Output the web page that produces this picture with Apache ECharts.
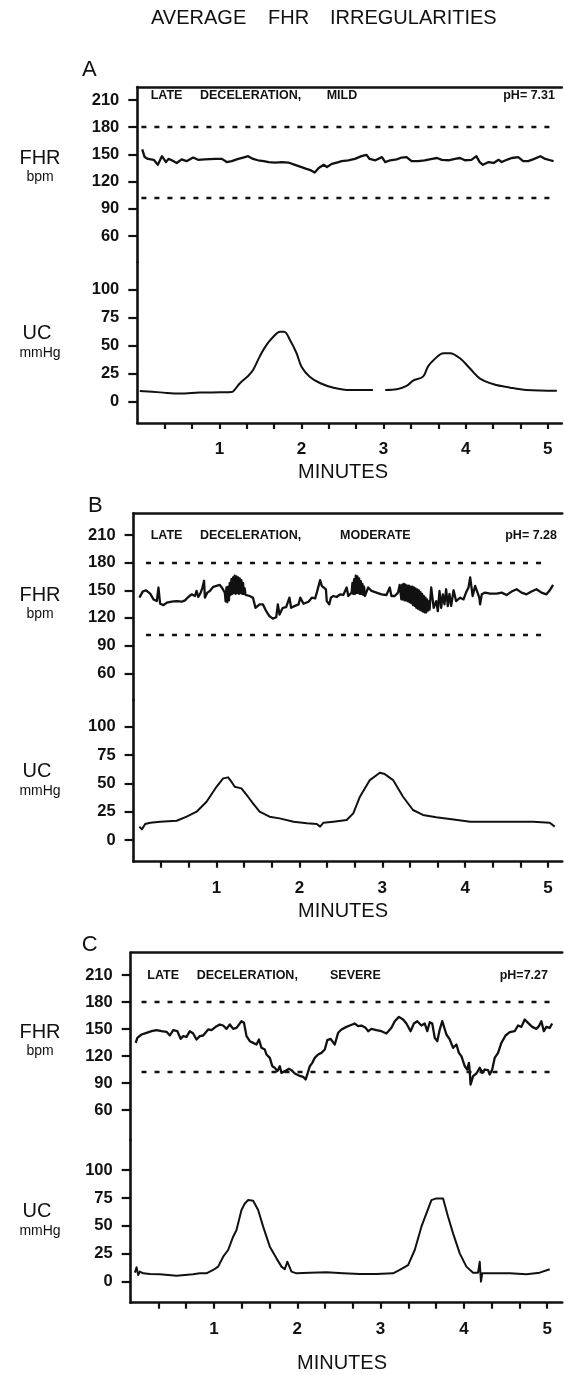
<!DOCTYPE html>
<html>
<head>
<meta charset="utf-8">
<script src="https://cdn.jsdelivr.net/npm/echarts@6/dist/echarts.min.js"></script>
<style>
html,body{margin:0;padding:0;background:#fff;}
#chart{width:564px;height:1375px;}
</style>
</head>
<body>
<div id="chart"></div>
<script>
// ---------- DATA (minutes, bpm / mmHg) ----------
const fhrTicks = [60, 90, 120, 150, 180, 210];
const ucTicks = [0, 25, 50, 75, 100];
const minuteTicks = [1/3, 2/3, 1, 4/3, 5/3, 2, 7/3, 8/3, 3, 10/3, 11/3, 4, 13/3, 14/3, 5];
const minuteLabels = [1, 2, 3, 4, 5];
const refLines = [180, 102];

const panelLetters = ['A', 'B', 'C'];
const panelTitles = [['LATE', 'DECELERATION,', 'MILD'], ['LATE', 'DECELERATION,', 'MODERATE'], ['LATE', 'DECELERATION,', 'SEVERE']];
const panelPH = ['pH= 7.31', 'pH= 7.28', 'pH=7.27'];

// Panel A
const fhrA_t = [0.06,0.09,0.13,0.20,0.25,0.30,0.35,0.38,0.42,0.48,0.54,0.60,0.68,0.74,0.82,0.95,1.03,1.09,1.15,1.23,1.29,1.35,1.41,1.47,1.54,1.60,1.68,1.76,1.84,1.92,2.00,2.06,2.10,2.16,2.21,2.27,2.31,2.37,2.43,2.49,2.57,2.65,2.73,2.79,2.83,2.90,2.98,3.02,3.08,3.16,3.22,3.28,3.34,3.42,3.50,3.59,3.65,3.71,3.79,3.87,3.93,3.99,4.07,4.13,4.17,4.21,4.28,4.34,4.40,4.44,4.50,4.56,4.64,4.70,4.76,4.82,4.91,4.97,5.03,5.07];
const fhrA_v = [155.5,147,145,144,138.5,148,141.5,145,143.5,140.5,144.5,142.5,146.5,144,144.5,145,145,141.5,142.5,145,146.5,148,145,143.5,142.5,141.5,141,141.5,141,138.5,136,134,133,130,135,138.5,136,139.5,141,142.5,143.5,145,148,149.5,145,143.5,147,141.5,143.5,144.5,146.5,147,142.5,142.5,143.5,145,146,144,143.5,145,146,143.5,144,148,141.5,138.5,141.5,140.5,144,141.5,144,146,147,142.5,142.5,144.5,148,145,143.5,142.5];
const ucA_t = [0.03,0.28,0.52,0.76,1.01,1.15,1.19,1.25,1.35,1.41,1.49,1.56,1.64,1.74,1.79,1.86,1.94,2.00,2.10,2.23,2.39,2.59,2.87,2.95,3.02,3.16,3.28,3.36,3.48,3.54,3.61,3.73,3.81,3.93,4.05,4.17,4.34,4.54,4.74,5.11];
const ucA_v = [9.5,8.3,7.2,8.1,8.3,8.6,11,16.4,22.9,28.2,40.1,49,56.4,62.3,62.3,54.9,43.1,31.2,22.3,16.4,12.5,10.4,10.4,null,10.4,11,14,18.7,22.3,31.2,37.1,43.1,43.1,38.6,29.7,20.8,15.5,12.5,10.4,9.8];

// Panel B
const fhrB_t = [0.07,0.11,0.15,0.20,0.24,0.28,0.30,0.32,0.36,0.40,0.46,0.52,0.58,0.62,0.66,0.70,0.74,0.76,0.78,0.81,0.83,0.85,0.86,0.89,0.92,0.96,1.00,1.04,1.07,1.10,
  1.11,1.12,1.13,1.14,1.15,1.16,1.17,1.18,1.19,1.20,1.21,1.22,1.23,1.24,1.25,1.26,1.27,1.28,1.29,1.30,1.31,1.32,1.33,1.34,1.35,1.36,
  1.40,1.44,1.47,1.52,1.56,1.60,1.64,1.68,1.72,1.74,1.76,1.80,1.84,1.88,1.90,1.94,1.99,2.01,2.05,2.11,2.15,2.19,2.21,2.25,2.27,2.29,2.32,2.33,2.36,2.38,2.41,2.45,2.49,2.53,2.57,2.59,2.63,
  2.64,2.65,2.66,2.67,2.68,2.69,2.70,2.71,2.72,2.73,2.74,2.75,2.76,2.77,2.78,2.79,
  2.83,2.87,2.93,2.99,3.05,3.09,3.11,3.15,3.19,3.21,3.23,
  3.24,3.25,3.26,3.27,3.28,3.29,3.30,3.31,3.32,3.33,3.34,3.35,3.36,3.37,3.38,3.39,3.40,3.41,3.42,3.43,3.44,3.45,3.46,3.47,3.48,3.49,3.50,3.51,3.52,3.53,3.54,3.55,3.56,3.57,3.59,
  3.62,3.65,3.67,3.69,3.71,3.73,3.75,3.77,3.79,3.81,3.83,3.86,3.89,3.94,3.98,4.01,4.04,4.06,4.09,4.12,4.14,4.17,4.18,4.20,4.24,4.30,4.38,4.44,4.50,4.56,4.62,4.68,4.74,4.80,4.86,4.92,4.98,5.02,5.06];
const fhrB_v = [142,148.6,150,146.4,140.1,138.3,153,135.4,133.9,136.5,137.6,138.3,137.6,139.1,142.7,145.6,143.8,149.3,142.7,147.5,153,160.3,142,147.5,149.3,153.7,154.8,155.9,152.2,147.5,
  138,153,137,154,139,158,145,162,146,164,147,166,146,165,147,164,146,163,147,161,146,158,146,152,145,143.8,
  143.8,142,131,134.7,134.7,127.3,121.8,119.3,120.7,134.7,123.7,131,131.7,142,131,132.8,134.7,142,135.4,137.6,142,141.2,147.5,161,154.8,155.5,151.1,138.3,134.7,142,143.8,142.7,145.6,144.9,153,143.8,147.5,
  158,146,162,146,166,147,165,147,163,146,160,146,157,145,154,143.8,
  153,149.3,147.5,145.6,144.9,153,143.8,143.8,147.5,155.9,140.1,
  156,140,157,139,156,139,155,138,155,137,154,136,154,134,153,133,152,131,151,130,150,129,148,128,146,127,144,126,142,126,140,128,138,129,153,
  131,138.3,127.3,149.3,131,145.6,134.7,151.1,132.8,146,133,150,138.3,142,140.1,147.5,153,164,143.8,154.8,156.6,142,134.7,145.6,147.5,146.4,146.4,147.5,144.9,148.6,151.1,147.5,145.6,148.6,151.1,147.5,145.6,150,155.9];
const ucB_t = [0.07,0.10,0.14,0.20,0.32,0.52,0.64,0.76,0.88,1.00,1.08,1.14,1.18,1.22,1.24,1.30,1.38,1.44,1.52,1.64,1.76,1.93,2.09,2.21,2.25,2.29,2.41,2.57,2.65,2.73,2.85,2.97,3.03,3.13,3.25,3.37,3.49,3.65,3.86,4.06,4.26,4.54,4.82,5.02,5.08];
const ucB_v = [11.8,9.4,14.1,15.3,16.2,17,20.6,25,33.8,47,54.4,55.3,51.5,47,48.5,45.6,38.2,32.3,25,20.6,19.1,16.2,14.7,14.1,11.8,15.3,16.2,17.6,23.5,38.2,52.9,59.4,58.2,52.9,38.2,26.5,22.1,20,18.2,16.2,16.2,16.2,16.2,15.3,11.8];

// Panel C
const fhrC_t = [0.06,0.08,0.13,0.19,0.25,0.31,0.37,0.43,0.47,0.51,0.56,0.60,0.63,0.67,0.71,0.75,0.79,0.83,0.87,0.93,0.97,1.02,1.07,1.11,1.15,1.19,1.23,1.27,1.33,1.36,1.39,1.43,1.47,1.51,1.54,1.57,1.61,1.63,1.67,1.70,1.73,1.76,1.79,1.81,1.85,1.90,1.93,1.97,2.02,2.07,2.10,2.12,2.15,2.18,2.21,2.25,2.29,2.33,2.36,2.40,2.45,2.49,2.53,2.59,2.63,2.69,2.73,2.77,2.82,2.85,2.89,2.95,3.01,3.07,3.13,3.17,3.22,3.27,3.31,3.36,3.40,3.44,3.49,3.53,3.56,3.59,3.62,3.65,3.68,3.71,3.74,3.76,3.79,3.83,3.87,3.91,3.94,3.97,4.01,4.04,4.06,4.07,4.08,4.11,4.15,4.19,4.22,4.25,4.29,4.31,4.34,4.37,4.41,4.45,4.50,4.55,4.61,4.65,4.69,4.73,4.77,4.82,4.87,4.90,4.93,4.96,4.99,5.03,5.06];
const fhrC_v = [134.6,140.2,143.9,145.8,147.6,148.7,147.6,146.9,142.8,148.7,147.6,139.1,142.1,141.3,147.6,145,138.4,142.1,142.8,149.5,148.7,152.4,155,153.9,150.2,155,150.2,151.3,158.7,156.9,142.1,136.5,134.6,132.8,138.4,129.1,127.2,121.7,118,108.7,106.9,103.2,108.7,101.3,103.2,105.8,104.3,100.6,98.3,96.9,93.9,99.5,108.7,112.4,118,121.7,123.5,127.2,137.6,139.1,132.8,145.8,149.5,152.4,153.9,156.1,153.2,153.9,151.3,147.6,150.2,148.7,147.6,145,151.3,158.7,163.5,160.6,156.1,147.6,156.1,158.7,153.9,156.1,147.6,157.6,156.1,140.2,136.5,149.5,158.7,160.6,143.9,138.4,129.1,132.8,123.5,119.8,108.7,105,112.4,103.2,88.3,97.6,100.6,106.9,101.3,105,104.3,99.5,105,118,123.5,134.6,142.8,146.5,147.6,153.9,152.4,160.6,156.9,152.4,150.2,153.2,158.7,147.6,152.4,151.3,156.1];
const ucC_t = [0.05,0.07,0.09,0.11,0.15,0.23,0.35,0.55,0.75,0.83,0.85,0.91,0.99,1.05,1.11,1.17,1.23,1.27,1.33,1.37,1.41,1.47,1.53,1.59,1.67,1.75,1.81,1.85,1.88,1.90,1.93,1.99,2.15,2.35,2.55,2.75,2.95,3.15,3.23,3.33,3.41,3.49,3.55,3.61,3.67,3.75,3.81,3.87,3.95,4.03,4.11,4.17,4.19,4.205,4.22,4.31,4.55,4.75,4.91,5.03];
const ucC_v = [8.1,12.9,6,9,7.5,6.9,6.6,5.4,6.6,7.5,9,7.5,10.5,13.5,22.4,28.4,40.3,46.3,64.2,70.1,73.1,72.5,64.2,49.3,31.4,20.9,13.5,11.1,17.9,16.4,9,7.5,8.1,8.4,7.5,6.9,6.9,7.5,10.5,14.9,28.4,49.3,61.2,73.1,74.6,74.6,58.2,43.3,25.4,13.5,8.1,8.1,17.9,0,7.5,7.5,7.5,6.6,8.1,11.1];

// ---------- LAYOUT / STYLE ----------
const INK = '#111';
const FONT = '"Liberation Sans", Arial, Helvetica, sans-serif';
const zip = (t, v) => t.map((x, i) => [x, v[i]]);

const panels = [
  { left: 137.3, pxPerMin: 82.1, fhrTop: 87, fhrH: 175, ucH: 161, xMax: 5.17, fhrMin: 31.3, fhrMax: 224.3, ucMin: -18.95, ucMax: 124.3,
    fhr: zip(fhrA_t, fhrA_v), uc: zip(ucA_t, ucA_v), ucSmooth: 0.35, dashFrom: 0.05, dashTo: 5.11,
    letter: [82, 70], title: [[150.7, 96], [200, 96], [326.7, 96]], ph: [555, 96],
    fhrLab: 158, bpm: 177, ucLab: 333, mmhg: 353, minutes: [343, 472] },
  { left: 133.6, pxPerMin: 82.9, fhrTop: 513.3, fhrH: 186.7, ucH: 161.7, xMax: 5.17, fhrMin: 31.0, fhrMax: 233.5, ucMin: -19.15, ucMax: 123.6,
    fhr: zip(fhrB_t, fhrB_v), uc: zip(ucB_t, ucB_v), ucSmooth: false, dashFrom: 0.15, dashTo: 5.0,
    letter: [88, 505.5], title: [[150.7, 536], [200, 536], [340, 536]], ph: [557, 536],
    fhrLab: 595, bpm: 614, ucLab: 771, mmhg: 791, minutes: [343, 911.7] },
  { left: 130.7, pxPerMin: 83.3, fhrTop: 952.7, fhrH: 187.3, ucH: 162.7, xMax: 5.18, fhrMin: 26.7, fhrMax: 234.8, ucMin: -18.8, ucMax: 126.9,
    fhr: zip(fhrC_t, fhrC_v), uc: zip(ucC_t, ucC_v), ucSmooth: false, dashFrom: 0.13, dashTo: 5.03,
    letter: [81.7, 945], title: [[147.3, 975.7], [196.7, 975.7], [330, 975.7]], ph: [548, 975.7],
    fhrLab: 1032, bpm: 1051, ucLab: 1211, mmhg: 1231, minutes: [342, 1363.3] }
];

const grid = [], xAxis = [], yAxis = [], series = [], graphic = [];
const axLine = { show: true, onZero: false, lineStyle: { color: INK, width: 2.6 } };
const tickStyle = { color: INK, width: 2.2 };

function txt(text, x, y, size, weight, align) {
  graphic.push({ type: 'text', x: x, y: y, silent: true,
    style: { text: text, fill: INK, font: (weight || 'normal') + ' ' + size + 'px ' + FONT,
             align: align || 'left', verticalAlign: 'middle' } });
}

panels.forEach((p, i) => {
  const width = p.xMax * p.pxPerMin;
  const g1 = 2 * i, g2 = 2 * i + 1;
  grid.push({ left: p.left, top: p.fhrTop, width: width, height: p.fhrH });
  grid.push({ left: p.left, top: p.fhrTop + p.fhrH, width: width, height: p.ucH });

  xAxis.push({ gridIndex: g1, type: 'value', min: 0, max: p.xMax, position: 'top',
    axisLine: axLine, axisTick: { show: false }, axisLabel: { show: false }, splitLine: { show: false } });
  xAxis.push({ gridIndex: g2, type: 'value', min: 0, max: p.xMax, position: 'bottom',
    axisLine: axLine,
    axisTick: { show: true, length: 6, lineStyle: tickStyle, customValues: minuteTicks },
    axisLabel: { show: true, customValues: minuteLabels, margin: 18, color: INK, fontSize: 17, fontWeight: 'bold', fontFamily: FONT },
    splitLine: { show: false } });

  yAxis.push({ gridIndex: g1, type: 'value', min: p.fhrMin, max: p.fhrMax,
    axisLine: axLine,
    axisTick: { show: true, length: 9, lineStyle: tickStyle, customValues: fhrTicks },
    axisLabel: { show: true, customValues: fhrTicks, margin: 18, color: INK, fontSize: 16.5, fontWeight: 'bold', fontFamily: FONT },
    splitLine: { show: false } });
  yAxis.push({ gridIndex: g2, type: 'value', min: p.ucMin, max: p.ucMax,
    axisLine: axLine,
    axisTick: { show: true, length: 9, lineStyle: tickStyle, customValues: ucTicks },
    axisLabel: { show: true, customValues: ucTicks, margin: 18, color: INK, fontSize: 16.5, fontWeight: 'bold', fontFamily: FONT },
    splitLine: { show: false } });

  series.push({ type: 'line', xAxisIndex: g1, yAxisIndex: g1, data: p.fhr, showSymbol: false, symbol: 'none',
    lineStyle: { color: INK, width: 2.3, join: 'round' }, animation: false, silent: true,
    markLine: { symbol: 'none', silent: true, animation: false, label: { show: false },
      lineStyle: { color: INK, width: 2.4, type: [5, 8] },
      data: refLines.map(v => [{ coord: [p.dashFrom, v] }, { coord: [p.dashTo, v] }]) } });
  series.push({ type: 'line', xAxisIndex: g2, yAxisIndex: g2, data: p.uc, showSymbol: false, symbol: 'none',
    smooth: p.ucSmooth, connectNulls: false,
    lineStyle: { color: INK, width: 2.0, join: 'round' }, animation: false, silent: true });

  txt(panelLetters[i], p.letter[0], p.letter[1], 22, 'normal');
  txt(panelTitles[i][0], p.title[0][0], p.title[0][1], 12.5, 'bold');
  txt(panelTitles[i][1], p.title[1][0], p.title[1][1], 12.5, 'bold');
  txt(panelTitles[i][2], p.title[2][0], p.title[2][1], 12.5, 'bold');
  txt(panelPH[i], p.ph[0], p.ph[1], 12.5, 'bold', 'right');
  txt('FHR', 40, p.fhrLab, 20, 'normal', 'center');
  txt('bpm', 40, p.bpm, 14, 'normal', 'center');
  txt('UC', 37, p.ucLab, 20, 'normal', 'center');
  txt('mmHg', 40, p.mmhg, 14, 'normal', 'center');
  txt('MINUTES', p.minutes[0], p.minutes[1], 20, 'normal', 'center');
});

txt('AVERAGE', 151, 18, 20, 'normal');
txt('FHR', 268, 18, 20, 'normal');
txt('IRREGULARITIES', 330, 18, 20, 'normal');

const chart = echarts.init(document.getElementById('chart'), null, { renderer: 'canvas' });
chart.setOption({
  backgroundColor: '#fff',
  animation: false,
  grid: grid, xAxis: xAxis, yAxis: yAxis, series: series, graphic: graphic
});
</script>
</body>
</html>
